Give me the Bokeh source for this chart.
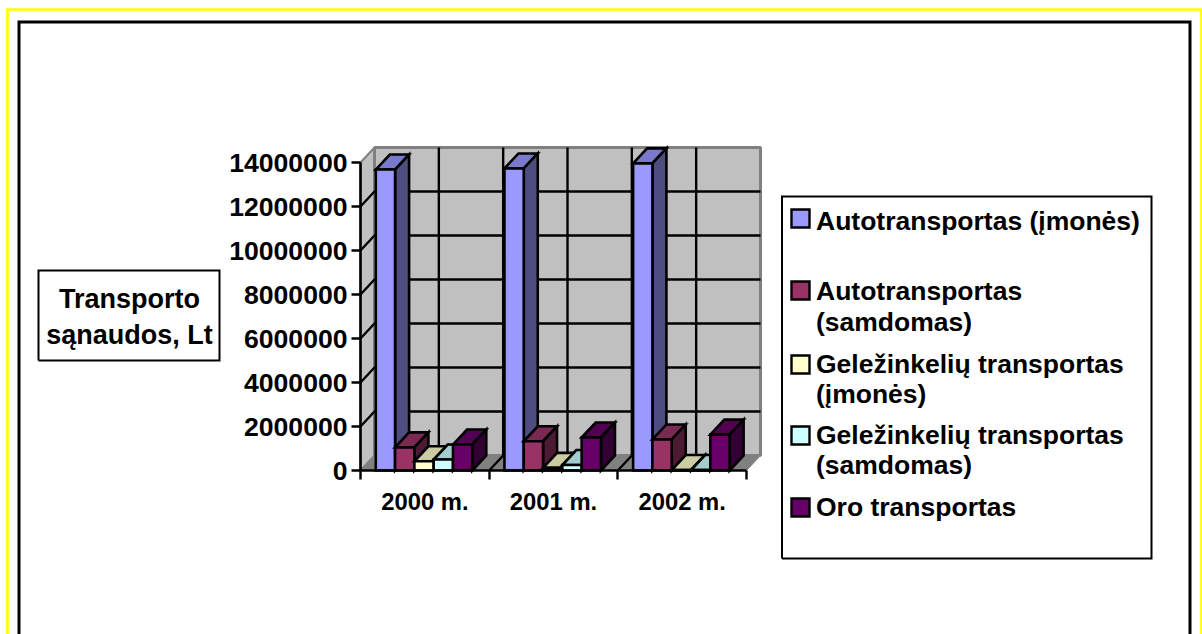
from bokeh.plotting import figure
from bokeh.embed import file_html
from bokeh.resources import INLINE
from bokeh.core.properties import value
from bokeh.models import Range1d, FixedTicker, NumeralTickFormatter

categories = ["2000 m.", "2001 m.", "2002 m."]
series_names = ["Autotransportas (įmonės)", "Autotransportas (samdomas)",
                "Geležinkelių transportas (įmonės)", "Geležinkelių transportas (samdomas)",
                "Oro transportas"]
auto_imones = [13680000, 13730000, 13960000]
auto_samdomas = [1050000, 1330000, 1410000]
gelez_imones = [420000, 120000, 20000]
gelez_samdomas = [500000, 250000, 20000]
oro = [1180000, 1500000, 1630000]
y_ticks = [0, 2000000, 4000000, 6000000, 8000000, 10000000, 12000000, 14000000]

series = [auto_imones, auto_samdomas, gelez_imones, gelez_samdomas, oro]
front = ["#9999FF", "#993366", "#FFFFCC", "#CCFFFF", "#660066"]
side = ["#4D4D80", "#4D1A33", "#808066", "#668080", "#330033"]
top = ["#7A7ACC", "#7A2952", "#CCCCA3", "#A3CCCC", "#520052"]

W, H = 1202, 634
X0, Y0, PX_CAT, PX_M = 360.0, 470.0, 128.67, 44.0 / 2000000
DX, DY = 14.0 / PX_CAT, 15.0 / PX_M
def X(px): return (px - X0) / PX_CAT
def Y(py): return (Y0 - py) / PX_M

p = figure(width=W, height=H, output_backend="svg", toolbar_location=None,
           x_range=Range1d(X(0), X(W)), y_range=Range1d(Y(H), Y(0)),
           min_border=0, outline_line_color=None, background_fill_color="white",
           border_fill_color="white")
p.grid.visible = False
FONT = value("Liberation Sans")

def box(x0, y0, x1, y1, color, lw):
    p.line([X(x0), X(x0), X(x1), X(x1), X(x0)], [Y(y1), Y(y0), Y(y0), Y(y1), Y(y1)],
           line_color=color, line_width=lw, line_join="miter")

# outer borders
p.line([X(7), X(7), X(1201), X(1201)], [Y(634), Y(9), Y(9), Y(634)],
       line_color="#FFFF00", line_width=2.6, line_join="miter")
p.line([X(18.5), X(18.5), X(1189.5), X(1189.5)], [Y(634), Y(21.5), Y(21.5), Y(634)],
       line_color="#000000", line_width=3, line_join="miter")

# walls
p.patch([0, DX, DX, 0], [0, DY, 14000000 + DY, 14000000], fill_color="#C0C0C0", line_color="#808080", line_width=2)
p.patch([DX, 3 + DX, 3 + DX, DX], [DY, DY, 14000000 + DY, 14000000 + DY], fill_color="#C0C0C0", line_color="#808080", line_width=3)
p.patch([0, DX, 3 + DX, 3], [0, DY, DY, 0], fill_color="#808080", line_color="#808080", line_width=1)

# gridlines
for t in y_ticks[1:-1]:
    p.line([0, DX, 3 + DX], [t, t + DY, t + DY], line_color="black", line_width=2.4)
for k in range(1, 6):
    p.line([k / 2 + DX, k / 2 + DX], [DY, 14000000 + DY], line_color="black", line_width=2.4)
for k in (1, 2):
    p.line([k, k + DX], [0, DY], line_color="black", line_width=2.4)

# 3D bars
BW = 19.3 / PX_CAT
GAP = (1 - 5 * BW) / 2 - 0.8 / PX_CAT
LW = 2.6
for c in range(3):
    for s, vals in enumerate(series):
        v = vals[c]
        a = c + GAP + s * BW
        b = a + BW
        p.patch([a, a + DX, b + DX, b], [v, v + DY, v + DY, v], fill_color=top[s], line_color="black", line_width=LW, line_join="miter")
        p.patch([b, b + DX, b + DX, b], [0, DY, v + DY, v], fill_color=side[s], line_color="black", line_width=LW, line_join="miter")
        p.patch([a, b, b, a], [0, 0, v, v], fill_color=front[s], line_color="black", line_width=LW, line_join="miter")

# axes
xa = p.xaxis[0]
xa.fixed_location = 0
xa.bounds = (0, 3)
xa.ticker = FixedTicker(ticks=[0.5, 1.5, 2.5], minor_ticks=[0, 1, 2, 3])
xa.major_label_overrides = {0.5: categories[0], 1.5: categories[1], 2.5: categories[2]}
xa.major_tick_out = 0
xa.major_tick_in = 0
xa.minor_tick_out = 9
xa.minor_tick_in = 0
xa.minor_tick_line_color = "black"
xa.minor_tick_line_width = 2.4
xa.axis_line_color = "black"
xa.axis_line_width = 2.6
xa.major_label_standoff = 8
xa.major_label_text_font = "Liberation Sans"
xa.major_label_text_font_style = "bold"
xa.major_label_text_font_size = "23.8px"
xa.major_label_text_color = "black"

ya = p.yaxis[0]
ya.fixed_location = 0
ya.bounds = (0, 14000000)
ya.ticker = FixedTicker(ticks=y_ticks, minor_ticks=[])
ya.formatter = NumeralTickFormatter(format="0")
ya.major_tick_out = 9
ya.major_tick_in = 0
ya.major_tick_line_color = "black"
ya.major_tick_line_width = 2.4
ya.axis_line_color = "black"
ya.axis_line_width = 2.6
ya.major_label_standoff = 4
ya.major_label_text_font = "Liberation Sans"
ya.major_label_text_font_style = "bold"
ya.major_label_text_font_size = "26.6px"
ya.major_label_text_color = "black"

# y title box
box(38, 270, 219, 360, "black", 2)
p.text([X(129), X(129)], [Y(298), Y(334)], text=["Transporto", "sąnaudos, Lt"], text_font=FONT,
       text_font_style="bold", text_font_size="27px", text_align="center", text_baseline="middle", text_color="black")

# legend
box(781.5, 196, 1151, 558, "black", 2)
leg_y = [218, 290, 364, 435, 507]
leg_lines = [(["Autotransportas (įmonės)"], [220.5]),
             (["Autotransportas", "(samdomas)"], [290, 321]),
             (["Geležinkelių transportas", "(įmonės)"], [363, 393]),
             (["Geležinkelių transportas", "(samdomas)"], [434, 464]),
             (["Oro transportas"], [506])]
for i, (ly, (txt, ys)) in enumerate(zip(leg_y, leg_lines)):
    p.patch([X(791), X(809), X(809), X(791)], [Y(ly - 9), Y(ly - 9), Y(ly + 9), Y(ly + 9)],
            fill_color=front[i], line_color="black", line_width=2.4, line_join="miter")
    p.text([X(815.5)] * len(txt), [Y(v) for v in ys], text=txt, text_font=FONT, text_font_style="bold",
           text_font_size="26.5px", text_align="left", text_baseline="middle", text_color="black")

open("out.html", "w").write(file_html(p, INLINE))
